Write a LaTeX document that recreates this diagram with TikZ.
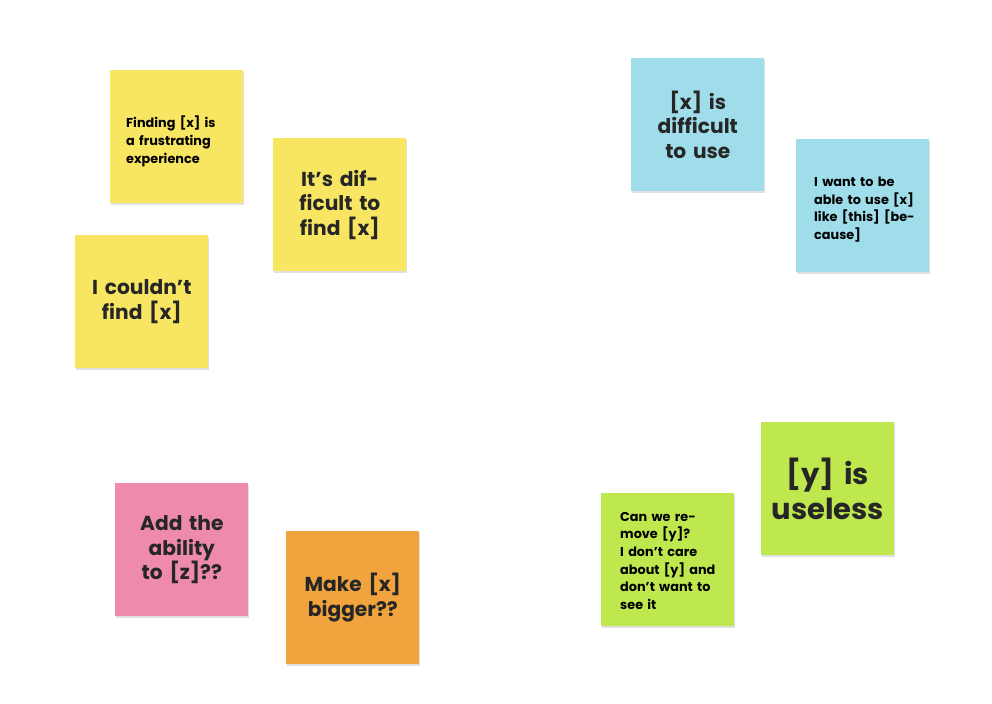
\documentclass[tikz,border=0pt]{standalone}
\usepackage{fontspec}
\setmainfont{Poppins}
\definecolor{yel}{HTML}{F8E662}
\definecolor{blu}{HTML}{9EDDE9}
\definecolor{pnk}{HTML}{EE8AAE}
\definecolor{org}{HTML}{F1A43E}
\definecolor{grn}{HTML}{BEE84E}
\tikzset{
 note/.style={minimum width=2.66cm,minimum height=2.66cm,inner sep=0pt,anchor=north west,font=\bfseries,
   text=black!85,
   postaction={draw=none},
   preaction={fill=black!12,transform canvas={xshift=0.5pt,yshift=-1pt}}},
 big/.style={align=center,text width=2.3cm,font=\bfseries\fontsize{11.5}{14}\selectfont},
 huge/.style={align=center,text width=2.5cm,font=\bfseries\fontsize{16.5}{20}\selectfont},
 small/.style={align=left,text width=2.2cm,font=\bfseries\fontsize{7.3}{10}\selectfont}
}
\begin{document}
\begin{tikzpicture}[x=0.02cm,y=-0.02cm]
\useasboundingbox (0,0) rectangle (992,704);
\node[note,fill=yel] (n1) at (110,70) {};
\node[small,anchor=north west] (t1) at (120,110) {Finding [x] is a frustrating experience};
\node[note,fill=yel,big] (n2) at (273,138) {It's difficult to find [x]};
\node[note,fill=yel,big] (n3) at (75,235) {I couldn't find [x]};
\node[note,fill=blu,big] (n4) at (631,58) {[x] is difficult to use};
\node[note,fill=blu] (n5) at (796,139) {};
\node[small,anchor=north west] (t5) at (808,171) {I want to be able to use [x] like [this] [because]};
\node[note,fill=pnk,big] (n6) at (115,483) {Add the ability to [z]??};
\node[note,fill=org,big] (n7) at (286,531) {Make [x] bigger??};
\node[note,fill=grn,huge] (n8) at (761,422) {[y] is useless};
\node[note,fill=grn] (n9) at (601,493) {};
\node[small,anchor=north west,text width=2.1cm] (t9) at (614,506) {Can we remove [y]? I don't care about [y] and don't want to see it};
\end{tikzpicture}
\end{document}
